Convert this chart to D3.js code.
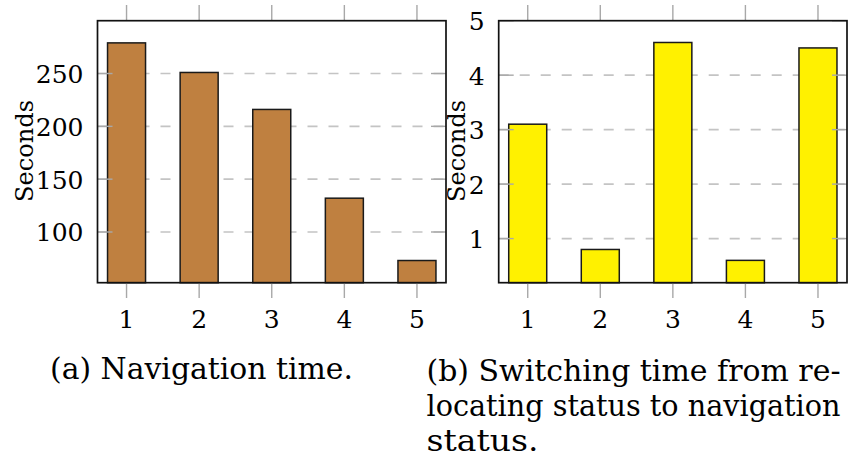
<!DOCTYPE html>
<html>
<head>
<meta charset="utf-8">
<script src="https://cdn.jsdelivr.net/npm/d3@7"></script>
<style>
  body { margin: 0; background: #fff; }
</style>
</head>
<body>
<svg id="fig" width="852" height="457" font-family="'DejaVu Serif', 'Liberation Serif', 'Times New Roman', Times, serif"></svg>
<script>
var runs = [1, 2, 3, 4, 5];
var navTime = [279, 251, 216, 132, 73];
var switchTime = [3.1, 0.8, 4.6, 0.6, 4.5];
var navTicks = [100, 150, 200, 250];
var switchTicks = [1, 2, 3, 4, 5];
var navCaption = ["(a) Navigation time."];
var switchCaption = ["(b) Switching time from re-", "locating status to navigation", "status."];

var svg = d3.select("#fig");

var drawPanel = function (opt) {
  var x = d3.scaleLinear().domain([0.6, 5.4]).range([opt.left, opt.right]);
  var y = d3.scaleLinear().domain(opt.yDomain).range([282.7, 20.7]);
  var barW = 38;
  var g = svg.append("g");

  // dashed grid
  g.selectAll("line.grid").data(opt.ticks.filter(function (t) { return t < opt.yDomain[1]; }))
    .enter().append("line")
    .attr("x1", opt.left).attr("x2", opt.right)
    .attr("y1", function (d) { return y(d); }).attr("y2", function (d) { return y(d); })
    .style("stroke", "#c4c4c4").style("stroke-width", 1.6)
    .style("stroke-dasharray", "10,11");

  // bars
  g.selectAll("rect.bar").data(opt.values).enter().append("rect")
    .attr("x", function (d, i) { return x(runs[i]) - barW / 2; })
    .attr("y", function (d) { return y(d); })
    .attr("width", barW)
    .attr("height", function (d) { return y(opt.yDomain[0]) - y(d); })
    .style("fill", opt.color)
    .style("stroke", "#1a1a1a").style("stroke-width", 1.5);

  // y ticks, inside on both sides
  var yTick = g.selectAll("g.ytick").data(opt.ticks).enter().append("g");
  yTick.append("line")
    .attr("x1", opt.left).attr("x2", opt.left + 15)
    .attr("y1", function (d) { return y(d); }).attr("y2", function (d) { return y(d); })
    .style("stroke", "#a8a8a8").style("stroke-width", 1.4);
  yTick.append("line")
    .attr("x1", opt.right - 15).attr("x2", opt.right)
    .attr("y1", function (d) { return y(d); }).attr("y2", function (d) { return y(d); })
    .style("stroke", "#a8a8a8").style("stroke-width", 1.4);
  yTick.append("text")
    .attr("x", opt.left - 14)
    .attr("y", function (d) { return y(d) + 9.5; })
    .attr("text-anchor", "end")
    .style("font-size", "25px")
    .text(function (d) { return d; });

  // x ticks, outside top and bottom
  var xTick = g.selectAll("g.xtick").data(runs).enter().append("g");
  xTick.append("line")
    .attr("x1", function (d) { return x(d); }).attr("x2", function (d) { return x(d); })
    .attr("y1", 5).attr("y2", 20.7)
    .style("stroke", "#a8a8a8").style("stroke-width", 1.4);
  xTick.append("line")
    .attr("x1", function (d) { return x(d); }).attr("x2", function (d) { return x(d); })
    .attr("y1", 282.7).attr("y2", 298)
    .style("stroke", "#a8a8a8").style("stroke-width", 1.4);
  xTick.append("text")
    .attr("x", function (d) { return x(d); })
    .attr("y", 328)
    .attr("text-anchor", "middle")
    .style("font-size", "25px")
    .text(function (d) { return d; });

  // frame
  g.append("rect")
    .attr("x", opt.left).attr("y", 20.7)
    .attr("width", opt.right - opt.left).attr("height", 262)
    .style("fill", "none").style("stroke", "#111").style("stroke-width", 1.7);

  // axis label
  g.append("text")
    .attr("transform", "translate(" + opt.labelX + ",151) rotate(-90)")
    .attr("text-anchor", "middle")
    .attr("textLength", 102).attr("lengthAdjust", "spacingAndGlyphs")
    .style("font-size", "25px")
    .text("Seconds");

  // caption
  g.selectAll("text.caption").data(opt.caption).enter().append("text")
    .attr("x", opt.capX)
    .attr("y", function (d, i) { return opt.capY + i * 35; })
    .attr("textLength", function (d, i) { return opt.capLen[i]; })
    .attr("lengthAdjust", "spacingAndGlyphs")
    .style("font-size", "29px")
    .text(function (d) { return d; });
};

drawPanel({
  left: 97.5, right: 446, yDomain: [52, 300], ticks: navTicks,
  values: navTime, color: "#bf8040", labelX: 33,
  caption: navCaption, capX: 50, capY: 379, capLen: [303]
});

drawPanel({
  left: 498.7, right: 847, yDomain: [0.19, 5], ticks: switchTicks,
  values: switchTime, color: "#fff100", labelX: 465,
  caption: switchCaption, capX: 426.5, capY: 381, capLen: [414, 414, 112]
});
</script>
</body>
</html>
